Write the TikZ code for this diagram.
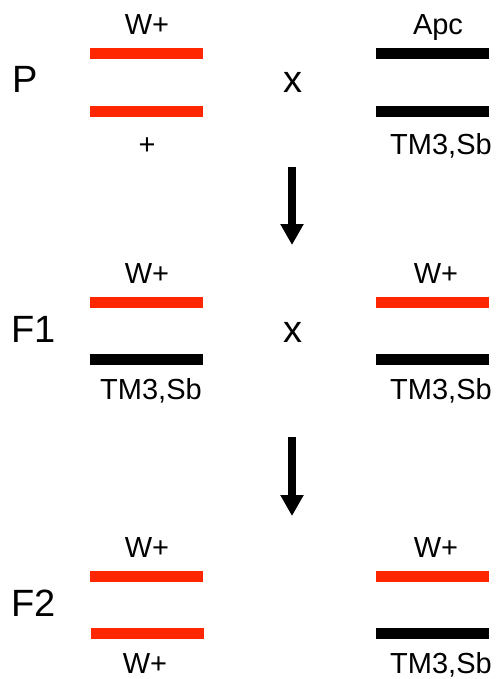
\documentclass[tikz,border=0pt]{standalone}
\usepackage{fontspec}
\setmainfont{Liberation Sans}
\usetikzlibrary{arrows.meta}
\definecolor{chrred}{RGB}{255,38,0}
\begin{document}
\begin{tikzpicture}[x=1pt,y=-1pt,
  bar/.style={rectangle, inner sep=0pt, minimum width=113pt, minimum height=11pt},
  redbar/.style={bar, fill=chrred},
  blackbar/.style={bar, fill=black},
  lab/.style={font=\fontsize{29}{32}\selectfont, inner sep=0pt, anchor=base},
  gen/.style={font=\fontsize{38}{42}\selectfont, inner sep=0pt, anchor=base west},
  crs/.style={font=\fontsize{38}{42}\selectfont, inner sep=0pt, anchor=base},
  genarrow/.style={line width=8pt, -{Triangle[width=22pt,length=21pt]}}]
\useasboundingbox (0,0) rectangle (496,679);
% P generation
\node[gen] (P) at (12,93) {P};
\node[redbar] (p1) at (146.5,54) {};
\node[redbar] (p2) at (146.5,111.5) {};
\node[lab] (p1l) at (147,35) {W+};
\node[lab] (p2l) at (147,154) {+};
\node[crs] (px) at (293,93) {x};
\node[blackbar] (p3) at (432.5,54) {};
\node[blackbar] (p4) at (432.5,111.5) {};
\node[lab] (p3l) at (438,35) {Apc};
\node[lab] (p4l) at (441,154) {TM3,Sb};
% arrow 1
\coordinate (a1s) at (292,167);
\coordinate (a1e) at (292,245);
\draw[genarrow] (a1s) -- (a1e);
% F1 generation
\node[gen] (F1) at (11,342) {F1};
\node[redbar] (f1) at (146.5,302) {};
\node[blackbar] (f2) at (146.5,359.5) {};
\node[lab] (f1l) at (147,283) {W+};
\node[lab] (f2l) at (151,399) {TM3,Sb};
\node[crs] (fx) at (293,342) {x};
\node[redbar] (f3) at (432.5,302) {};
\node[blackbar] (f4) at (432.5,359.5) {};
\node[lab] (f3l) at (436,283) {W+};
\node[lab] (f4l) at (441,399) {TM3,Sb};
% arrow 2
\coordinate (a2s) at (292,437);
\coordinate (a2e) at (292,516);
\draw[genarrow] (a2s) -- (a2e);
% F2 generation
\node[gen] (F2) at (11,616) {F2};
\node[redbar] (g1) at (146.5,576) {};
\node[redbar] (g2) at (147.5,633.5) {};
\node[lab] (g1l) at (147,557) {W+};
\node[lab] (g2l) at (145,673) {W+};
\node[redbar] (g3) at (432.5,576) {};
\node[blackbar] (g4) at (432.5,633.5) {};
\node[lab] (g3l) at (436,557) {W+};
\node[lab] (g4l) at (441,673) {TM3,Sb};
\end{tikzpicture}
\end{document}
